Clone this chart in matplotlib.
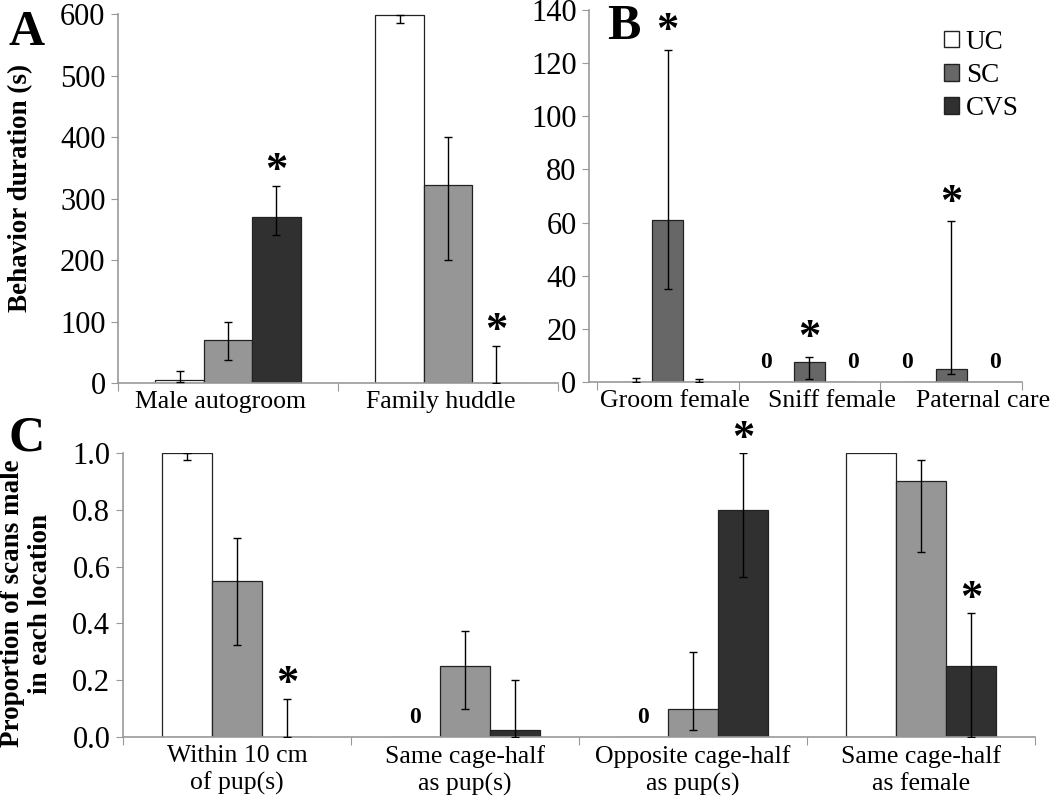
import matplotlib
matplotlib.use("Agg")
import matplotlib.pyplot as plt
import numpy as np
from matplotlib.patches import Patch

plt.rcParams['font.family'] = ['Liberation Serif', 'DejaVu Serif']

groups = ['UC', 'SC', 'CVS']

# panel A
cats_a = ['Male autogroom', 'Family huddle']
a_mean = {'UC': [5, 598], 'SC': [70, 322], 'CVS': [270, 0]}
a_lo = {'UC': [4, 13], 'SC': [32, 122], 'CVS': [30, 0]}
a_hi = {'UC': [15, 0], 'SC': [30, 78], 'CVS': [50, 60]}
a_star = [(0, 'CVS'), (1, 'CVS')]

# panel B
cats_b = ['Groom female', 'Sniff female', 'Paternal care']
b_mean = {'UC': [0, 0, 0], 'SC': [61, 7.5, 5], 'CVS': [0, 0, 0]}
b_lo = {'UC': [0, 0, 0], 'SC': [26, 6.5, 2], 'CVS': [0, 0, 0]}
b_hi = {'UC': [1.5, 0, 0], 'SC': [64, 2, 55.5], 'CVS': [1, 0, 0]}
b_zero = [(1, 'UC'), (1, 'CVS'), (2, 'UC'), (2, 'CVS')]
b_star = [(0, 'SC'), (1, 'SC'), (2, 'SC')]

# panel C
cats_c = ['Within 10 cm\nof pup(s)', 'Same cage-half\nas pup(s)',
          'Opposite cage-half\nas pup(s)', 'Same cage-half\nas female']
c_mean = {'UC': [1.0, 0, 0, 1.0], 'SC': [0.55, 0.25, 0.10, 0.90], 'CVS': [0, 0.025, 0.80, 0.25]}
c_lo = {'UC': [0.025, 0, 0, 0], 'SC': [0.225, 0.15, 0.075, 0.25], 'CVS': [0, 0.025, 0.235, 0.25]}
c_hi = {'UC': [0, 0, 0, 0], 'SC': [0.15, 0.125, 0.20, 0.075], 'CVS': [0.135, 0.175, 0.20, 0.185]}
c_zero = [(1, 'UC'), (2, 'UC')]
c_star = [(0, 'CVS'), (2, 'CVS'), (3, 'CVS')]

light = {'UC': 'white', 'SC': '#969696', 'CVS': '#303030'}
dark_b = {'UC': 'white', 'SC': '#676767', 'CVS': '#303030'}

W = 0.22
offs = {'UC': -W, 'SC': 0.0, 'CVS': W}


def panel(ax, cats, mean, lo, hi, cols, ymax, ystep, zeros, stars, zero_y, star_pad,
          xlo=-0.5, lab_shift=None, zero_off=1.0):
    x = np.arange(len(cats))
    for g in groups:
        m = np.array(mean[g], dtype=float)
        ax.bar(x + offs[g], m, W, color=cols[g], edgecolor='#222222', linewidth=0.9, zorder=2)
        for i in range(len(cats)):
            if lo[g][i] == 0 and hi[g][i] == 0:
                continue
            ax.errorbar(x[i] + offs[g], m[i], yerr=[[lo[g][i]], [hi[g][i]]], fmt='none',
                        ecolor='black', elinewidth=1, capsize=2.7, capthick=1, zorder=3)
    for i, g in zeros:
        ax.text(i + offs[g] * zero_off, zero_y, '0', ha='center', va='center',
                fontsize=17, fontweight='bold')
    for i, g in stars:
        top = mean[g][i] + hi[g][i]
        ax.text(i + offs[g], top + star_pad, '*', ha='center', va='center', fontsize=32, fontweight='bold')
    ax.set_xlim(xlo, len(cats) - 0.5)
    ax.set_ylim(0, ymax)
    ax.set_yticks(np.arange(0, ymax + ystep / 2, ystep))
    ax.set_xticks(np.arange(len(cats) + 1) - 0.5)
    ax.set_xticklabels([])
    lx = x if lab_shift is None else x + np.array(lab_shift)
    ax.set_xticks(lx, minor=True)
    ax.set_xticklabels(cats, minor=True, fontsize=18.5, linespacing=1.25)
    ax.tick_params(axis='x', which='minor', length=0, pad=6)
    ax.tick_params(axis='x', which='major', length=6, color='#999999', direction='out')
    ax.tick_params(axis='y', length=5, color='#999999', labelsize=22, direction='out', pad=4)
    for s in ['top', 'right']:
        ax.spines[s].set_visible(False)
    for s in ['left', 'bottom']:
        ax.spines[s].set_color('#999999')
        ax.spines[s].set_linewidth(1.2)


fig = plt.figure(figsize=(10.5, 8.07), dpi=100)

ax_a = fig.add_axes([0.1124, 0.5254, 0.419, 0.457])
panel(ax_a, cats_a, a_mean, a_lo, a_hi, light, 600, 100, [], a_star, 0, 25,
      lab_shift=[-0.035, -0.035])
ax_a.yaxis.set_major_formatter(matplotlib.ticker.FormatStrFormatter('%d'))
ax_a.set_ylabel('Behavior duration (s)', fontsize=19.5, fontweight='bold')
ax_a.yaxis.set_label_coords(-0.193, 0.53)

ax_b = fig.add_axes([589 / 1050, 0.5267, 433 / 1050, 0.461])
panel(ax_b, cats_b, b_mean, b_lo, b_hi, dark_b, 140, 20, b_zero, b_star, 7.5, 7, xlo=-0.555,
      lab_shift=[0.05, 0.16, 0.225], zero_off=1.4)
handles = [Patch(facecolor=dark_b[g], edgecolor='#222222', label=g) for g in groups]
ax_b.legend(handles=handles, loc='upper right', bbox_to_anchor=(1.03, 0.99), frameon=False,
            fontsize=19.5, handlelength=0.55, handleheight=0.55, handletextpad=0.25, labelspacing=0.3,
            borderaxespad=0.2)

ax_c = fig.add_axes([0.117, 0.0867, 0.8686, 0.352])
panel(ax_c, cats_c, c_mean, c_lo, c_hi, light, 1.0, 0.2, c_zero, c_star, 0.07, 0.05)
ax_c.yaxis.set_major_formatter(matplotlib.ticker.FormatStrFormatter('%.1f'))
ax_c.set_ylabel('Proportion of scans male\nin each location', fontsize=19.5, fontweight='bold',
                linespacing=1.15)
ax_c.yaxis.set_label_coords(-0.0768, 0.47)

fig.text(0.008, 0.988, 'A', fontsize=36, fontweight='bold', va='top')
fig.text(0.578, 0.995, 'B', fontsize=36, fontweight='bold', va='top')
fig.text(0.008, 0.485, 'C', fontsize=36, fontweight='bold', va='top')

fig.savefig('out.png', dpi=100)
